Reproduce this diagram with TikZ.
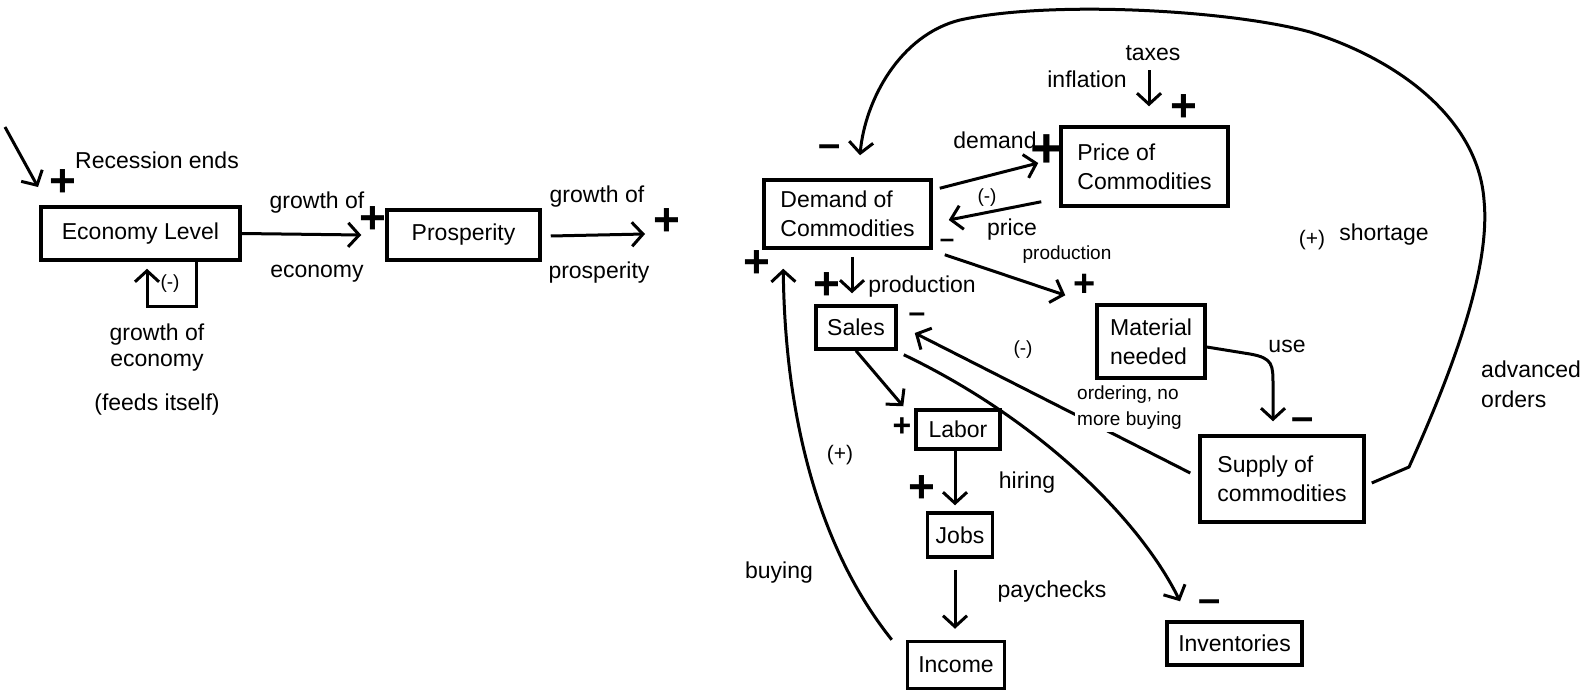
\documentclass[tikz,border=0pt]{standalone}
\usepackage{fontspec}
\setmainfont{Liberation Sans}
\usetikzlibrary{arrows.meta}
\begin{document}
\begin{tikzpicture}[x=1pt,y=-1pt,
  every node/.style={font=\fontsize{23}{29}\selectfont, inner sep=0pt},
  box/.style={draw, line width=3.5pt, align=left},
  small/.style={font=\fontsize{19}{25}\selectfont},
  posmark/.style={font=\fontsize{46}{46}\selectfont\bfseries},
  bigpos/.style={font=\fontsize{56}{56}\selectfont\bfseries},
  negmark/.style={font=\fontsize{40}{40}\selectfont\bfseries},
  link/.style={line width=3pt, -{Straight Barb[length=11pt,width=24pt]}},
]
\useasboundingbox (0,0) rectangle (1591,696);

% ---------------- economy loop ----------------
\node[box, minimum width=199pt, minimum height=53pt] (econ) at (140.5,233.5) {Economy Level};
\node[box, minimum width=153pt, minimum height=50pt] (pros) at (463.5,235) {Prosperity};

\coordinate (recstart) at (5,127);
\coordinate (recend) at (38,187);
\draw[link] (recstart) -- (recend);
\node[posmark] (recplus) at (63,183) {+};
\node (rectxt) at (157,160) {Recession ends};

\draw[link] (econ.east) -- ([xshift=-24pt]pros.west);
\node[posmark] (prosplus) at (373,220) {+};
\node (gr1) at (317,203) {growth of};
\node (ec1) at (317,274) {economy};

\coordinate (prosend) at (645,234);
\draw[link] ([xshift=9pt,yshift=-1pt]pros.east) -- (prosend);
\node[posmark] (outplus) at (667,222) {+};
\node (gr2) at (597,197) {growth of};
\node (pr2) at (599,273) {prosperity};

\draw[link] ([xshift=55.5pt]econ.south) -- ++(0,45) -- ++(-49,0) -- ++(0,-38);
\node[small] (selfneg) at (170,284) {(-)};
\node (gr3) at (157,335) {growth of};
\node (ec3) at (157,363) {economy};
\node (feeds) at (157,405) {(feeds itself)};

% ---------------- commodities loop ----------------
\node[box, minimum width=167pt, minimum height=68pt] (demand) at (847.5,214) {Demand of\\Commodities};
\node[box, minimum width=167pt, minimum height=79pt] (price) at (1144.5,166.5) {Price of\\Commodities};
\node[box, minimum width=108pt, minimum height=73pt] (material) at (1151,341.5) {Material\\needed};
\node[box, minimum width=164pt, minimum height=86pt] (supply) at (1282,479) {Supply of\\commodities};
\node[box, minimum width=80pt, minimum height=43pt] (sales) at (856,327.5) {Sales};
\node[box, minimum width=84pt, minimum height=39pt] (labor) at (958,429.5) {Labor};
\node[box, minimum width=65pt, minimum height=44pt] (jobs) at (960,535) {Jobs};
\node[box, minimum width=97pt, minimum height=47pt] (income) at (956,665) {Income};
\node[box, minimum width=135pt, minimum height=43pt] (invent) at (1234.5,643.5) {Inventories};

% taxes / inflation into price
\node (taxes) at (1153,53) {taxes};
\node (infl) at (1087,79) {inflation};
\coordinate (taxtop) at (1149,70);
\draw[link] (taxtop) -- ([xshift=4.5pt,yshift=19pt]price.north);
\node[posmark] (taxplus) at (1184,108) {+};

% demand -> price
\node (demlbl) at (995,140) {demand};
\draw[link] ([xshift=7pt,yshift=-10pt]demand.north east) -- ([xshift=-21pt,yshift=3.5pt]price.west);
\node[bigpos] (demplus) at (1047,151) {+};

% price -> demand
\draw[link] ([xshift=-18pt,yshift=6pt]price.south west) -- ([xshift=16pt,yshift=-6pt]demand.east);
\node[small] (priceneg) at (987,198) {(-)};
\node (pricelbl) at (1012,230) {price};
\node[negmark, font=\fontsize{26}{26}\selectfont\bfseries] (demneg) at (947,243) {–};

% demand -> material needed
\draw[link] ([xshift=12pt,yshift=-5pt]demand.south east) -- ([xshift=-30pt,yshift=8pt]material.north west);
\node[small] (prodsmall) at (1067,255) {production};
\node[posmark, font=\fontsize{38}{38}\selectfont\bfseries] (matplus) at (1085,285) {+};

% demand -> sales
\draw[link] ([xshift=4.5pt,yshift=-7pt]demand.south) -- ([xshift=-4pt,yshift=11pt]sales.north);
\node[posmark] (salesplus) at (827,286) {+};
\node (prodlbl) at (922,287) {production};

% supply -> demand (advanced orders)
\draw[link] ([xshift=6pt,yshift=-4pt]supply.east) -- (1409,467)
  .. controls (1462,350) and (1490,260) .. (1484,200)
  .. controls (1478,120) and (1400,60) .. (1310,32)
  .. controls (1230,10) and (1050,0) .. (960,20)
  .. controls (900,35) and (865,100) .. ([xshift=12.5pt,yshift=23pt]demand.north);
\node[negmark] (topneg) at (830,151) {–};
\node[small, font=\fontsize{21}{25}\selectfont] (shortpos) at (1312,240) {(+)};
\node (shortlbl) at (1384,235) {shortage};
\node[anchor=west] (adv) at (1481,369) {advanced};
\node[anchor=west] (ord) at (1481,399) {orders};

% material needed -> supply
\draw[link] ([yshift=-5.5pt]material.east) -- (1250,354)
  .. controls (1273,358) and (1273,365) .. (1273,385)
  -- ([xshift=-9pt,yshift=13pt]supply.north);
\node (uselbl) at (1287,346) {use};
\node[negmark] (useneg) at (1303,424) {–};

% supply -> sales
\draw[link] ([xshift=-8pt,yshift=6pt]supply.west) -- ([xshift=17pt,yshift=-5.5pt]sales.east);
\node[negmark, font=\fontsize{30}{30}\selectfont\bfseries] (salesneg) at (917,318) {–};
\node[small, anchor=west, fill=white, inner sep=2pt] (ord1) at (1075,395) {ordering, no};
\node[small, anchor=west, fill=white, inner sep=2pt] (ord2) at (1075,421) {more buying};
\node[small] (midneg) at (1023,350) {(-)};

% sales -> inventories
\draw[link] ([xshift=6pt,yshift=-4pt]sales.south east)
  .. controls (1040,420) and (1140,520) .. ([xshift=-54.5pt,yshift=19pt]invent.north);
\node[negmark] (invneg) at (1210,606) {–};

% sales -> labor -> jobs -> income
\draw[link] (sales.south) -- ([xshift=-11pt,yshift=2pt]labor.north west);
\node[posmark, font=\fontsize{32}{32}\selectfont\bfseries] (laborplus) at (902,427) {+};
\draw[link] ([xshift=-3pt]labor.south) -- ([xshift=-5pt,yshift=6pt]jobs.north);
\node[posmark] (jobsplus) at (922,489) {+};
\node (hiring) at (1027,483) {hiring};
\draw[link] ([xshift=-5pt,yshift=-11pt]jobs.south) -- ([xshift=-1pt,yshift=11pt]income.north);
\node (paychecks) at (1052,592) {paychecks};

% income -> demand (buying)
\draw[link] ([xshift=-14pt]income.north west)
  .. controls (820,550) and (785,420) .. ([xshift=21pt,yshift=-19pt]demand.south west);
\node[posmark] (buyplus) at (757,264) {+};
\node[small, font=\fontsize{21}{25}\selectfont] (buypos) at (840,455) {(+)};
\node (buying) at (779,573) {buying};

\end{tikzpicture}
\end{document}
